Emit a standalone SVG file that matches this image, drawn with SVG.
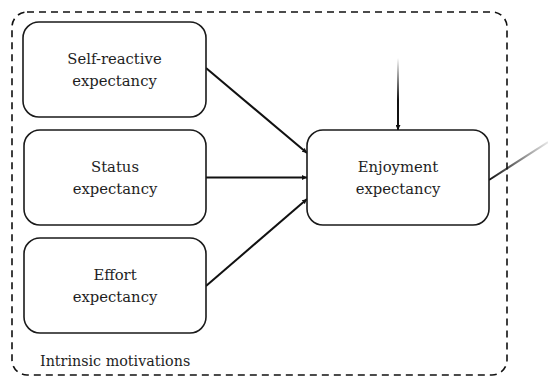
<svg xmlns="http://www.w3.org/2000/svg" width="548" height="377" viewBox="0 0 548 377">
  <style>
    .box { fill: #ffffff; stroke: #1a1a1a; stroke-width: 1.6; }
    .lbl { font-family: 'DejaVu Serif', 'Liberation Serif', serif; font-size: 14.8px; fill: #1e1e1e; text-anchor: middle; }
    .cap { font-family: 'DejaVu Serif', 'Liberation Serif', serif; font-size: 14.3px; fill: #1e1e1e; }
    .edge { stroke: #111111; stroke-width: 2; fill: none; }
    .group { fill: none; stroke: #111111; stroke-width: 1.6; stroke-dasharray: 7 5; }
  </style>
  <defs>
    <marker id="arrow" viewBox="0 0 10 10" refX="10" refY="5" markerWidth="5" markerHeight="5" orient="auto" markerUnits="userSpaceOnUse">
      <path d="M0,0 L10,5 L0,10 z" fill="#111111"/>
    </marker>
    <linearGradient id="fadeDown" x1="0" y1="58" x2="0" y2="100" gradientUnits="userSpaceOnUse">
      <stop offset="0" stop-color="#111111" stop-opacity="0"/>
      <stop offset="1" stop-color="#111111" stop-opacity="1"/>
    </linearGradient>
    <linearGradient id="fadeOut" x1="489" y1="180" x2="548" y2="142" gradientUnits="userSpaceOnUse">
      <stop offset="0" stop-color="#111111" stop-opacity="1"/>
      <stop offset="1" stop-color="#111111" stop-opacity="0.1"/>
    </linearGradient>
  </defs>

  <!-- dashed grouping frame -->
  <g id="intrinsic-motivations">
    <rect class="group" x="12" y="12" width="495" height="363" rx="15"/>
    <text class="cap" x="40" y="366">Intrinsic motivations</text>
  </g>

  <g id="connectors">
    <line class="edge" x1="206" y1="68" x2="307" y2="153" marker-end="url(#arrow)"/>
    <line class="edge" x1="206" y1="177.5" x2="307" y2="177.5" marker-end="url(#arrow)"/>
    <line class="edge" x1="206" y1="286" x2="307" y2="199" marker-end="url(#arrow)"/>
    <line x1="398" y1="58" x2="398" y2="130" stroke="url(#fadeDown)" stroke-width="2" marker-end="url(#arrow)"/>
    <line x1="489" y1="180" x2="548" y2="142" stroke="url(#fadeOut)" stroke-width="2"/>
  </g>

  <g id="self-reactive">
    <rect class="box" x="23" y="22" width="183" height="95" rx="16"/>
    <text class="lbl" x="114.5" y="64">Self-reactive</text>
    <text class="lbl" x="114.5" y="86">expectancy</text>
  </g>

  <g id="status">
    <rect class="box" x="24" y="130" width="182" height="95" rx="16"/>
    <text class="lbl" x="115" y="172">Status</text>
    <text class="lbl" x="115" y="194">expectancy</text>
  </g>

  <g id="effort">
    <rect class="box" x="24" y="238" width="182" height="95" rx="16"/>
    <text class="lbl" x="115" y="280">Effort</text>
    <text class="lbl" x="115" y="302">expectancy</text>
  </g>

  <g id="enjoyment">
    <rect class="box" x="307" y="130" width="182" height="95" rx="16"/>
    <text class="lbl" x="398" y="172">Enjoyment</text>
    <text class="lbl" x="398" y="194">expectancy</text>
  </g>
</svg>
